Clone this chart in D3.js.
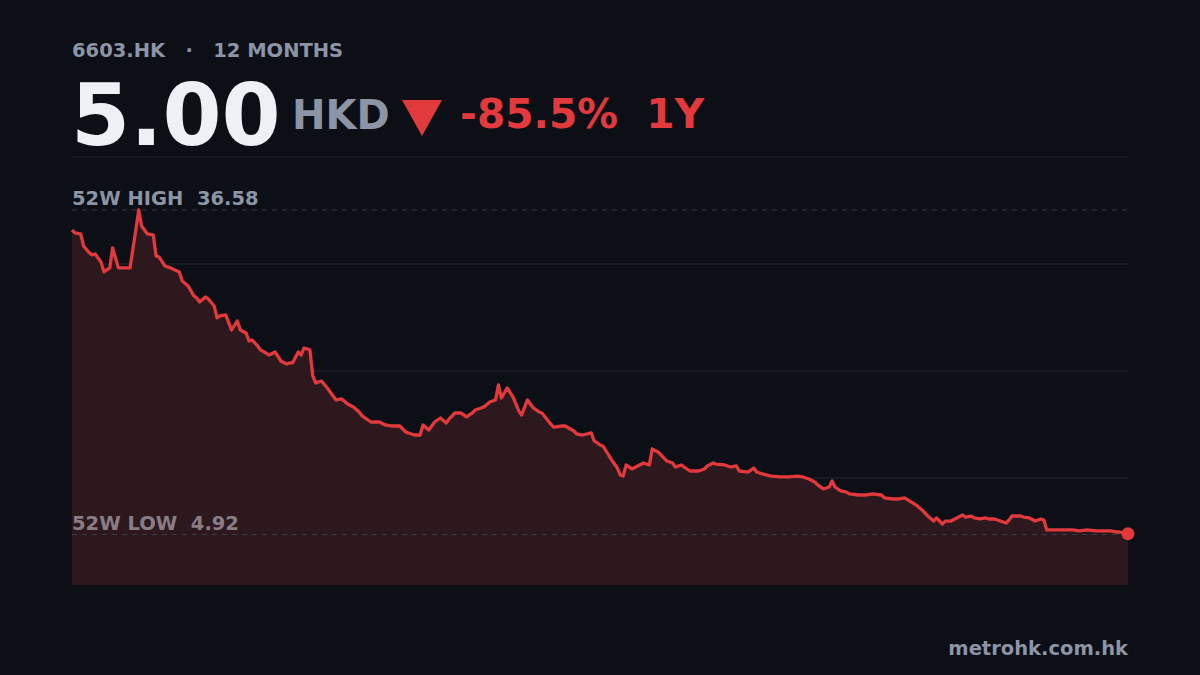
<!DOCTYPE html><html><head><meta charset="utf-8"><script src="https://cdn.jsdelivr.net/npm/d3@7"></script>
<style>body{margin:0;background:#0c0f16}svg{display:block}text{font-family:"DejaVu Sans",sans-serif;font-weight:bold}</style></head><body>
<svg id="c" width="1200" height="675"></svg>
<script>
const days=[0,1,3,4,6,7,8,10,11,13,14,16,18,20,22,23,24,26,28,29,30,32,34,37,38,40,42,43,44,46,47,49,50,51,53,55,57,58,60,61,62,64,65,68,70,72,74,75,76,78,79,80,82,83,84,86,88,91,93,95,97,99,100,103,106,108,110,113,115,118,120,121,123,125,127,129,130,132,134,136,138,139,141,142,144,146,147,148,150,152,154,155,157,159,161,162,165,166,169,170,173,174,176,179,180,182,183,186,188,189,190,191,193,195,197,199,200,202,204,205,207,208,210,211,213,216,218,219,221,222,225,227,229,230,233,235,236,238,241,244,247,250,252,254,256,257,259,261,262,263,265,267,268,271,274,276,279,280,283,285,287,291,293,295,297,298,300,301,303,305,307,308,310,311,313,315,316,318,320,322,323,324,327,328,330,332,334,335,336,339,342,345,347,350,353,356,358,360,361,364];
const prices=[34.63,34.34,34.24,33.07,32.39,32.20,32.29,31.51,30.54,30.93,32.88,30.93,30.93,30.93,34.63,36.58,35.02,34.24,34.15,32.10,32.00,31.12,30.93,30.54,29.66,29.17,28.20,28.00,27.61,28.10,27.90,27.22,26.05,26.24,26.34,24.88,25.76,24.88,24.59,23.80,23.90,23.32,22.93,22.44,22.73,21.85,21.56,21.66,21.66,22.73,22.44,23.12,22.93,20.39,19.71,19.90,19.22,18.05,18.15,17.66,17.37,16.88,16.49,15.90,15.90,15.61,15.51,15.51,14.93,14.63,14.63,15.61,15.12,15.90,16.29,15.80,16.20,16.78,16.78,16.39,16.78,17.07,17.27,17.37,17.85,18.05,19.51,18.24,19.22,18.34,16.98,16.59,18.05,17.27,16.88,16.78,15.71,15.41,15.51,15.51,15.02,14.73,14.63,14.83,14.05,13.66,13.56,12.20,11.41,10.73,10.63,11.71,11.32,11.61,11.90,11.71,13.27,12.98,12.39,12.10,11.90,11.51,11.71,11.51,11.12,11.12,11.32,11.61,11.90,11.80,11.71,11.51,11.61,11.12,11.02,11.41,11.02,10.83,10.63,10.54,10.54,10.63,10.54,10.34,10.05,9.76,9.37,9.56,10.15,9.56,9.17,9.07,8.88,8.78,8.78,8.88,8.78,8.49,8.39,8.39,8.49,7.80,7.32,6.73,6.24,6.54,5.95,6.24,6.24,6.54,6.83,6.63,6.73,6.54,6.44,6.54,6.44,6.44,6.24,6.05,6.34,6.73,6.73,6.63,6.54,6.24,6.44,6.34,5.37,5.37,5.37,5.37,5.27,5.37,5.27,5.27,5.27,5.17,5.17,5.00];
const high=36.58, low=4.92, last=5.00, change="-85.5%";
const data=days.map((d,i)=>({d,v:prices[i]}));
const svg=d3.select("#c");
svg.append("rect").attr("width",1200).attr("height",675).attr("fill","#0c0f16");
const L=72,R=1128,T=157,B=585;
const x=d3.scaleLinear().domain([0,364]).range([L,R]);
const y=d3.scaleLinear().domain([0,high*1.1413]).range([B,T]);
svg.append("line").attr("x1",L).attr("x2",R).attr("y1",T).attr("y2",T).attr("stroke","#1f232b");
[0.25,0.5,0.75].forEach(f=>{const yy=T+(B-T)*f;svg.append("line").attr("x1",L).attr("x2",R).attr("y1",yy).attr("y2",yy).attr("stroke","#23262e");});
svg.append("path").datum(data).attr("fill","#2d181e").attr("d",d3.area().x(d=>x(d.d)).y0(B).y1(d=>y(d.v)));
[[high,"52W HIGH  36.58","#8b95a5"],[low,"52W LOW  4.92","#8a7d86"]].forEach(([v,t,c])=>{
 svg.append("line").attr("x1",L).attr("x2",R).attr("y1",y(v)).attr("y2",y(v)).attr("stroke","#3a3d45").attr("stroke-dasharray","5,5");
 svg.append("text").attr("x",L).attr("y",y(v)-5).attr("fill",c).attr("font-size",19.5).attr("xml:space","preserve").text(t);
});
svg.append("path").datum(data).attr("fill","none").attr("stroke","#e2393d").attr("stroke-width",3.3).attr("stroke-linejoin","round").attr("d",d3.line().x(d=>x(d.d)).y(d=>y(d.v)));
svg.append("circle").attr("cx",x(364)).attr("cy",y(last)).attr("r",6.5).attr("fill","#e2393d");
svg.append("text").attr("x",L).attr("y",57).attr("fill","#8b95a5").attr("font-size",19.5).attr("xml:space","preserve").text("6603.HK   ·   12 MONTHS");
svg.append("text").attr("x",L-1).attr("y",145).attr("fill","#eef0f6").attr("font-size",85).text(last.toFixed(2));
svg.append("text").attr("x",292).attr("y",129).attr("fill","#8b95a5").attr("font-size",40).text("HKD");
svg.append("path").attr("d","M402,100 L442,100 L422,136 Z").attr("fill","#e2393d");
svg.append("text").attr("x",460).attr("y",128).attr("fill","#e2393d").attr("font-size",40.7).attr("xml:space","preserve").text(change+"  1Y");
svg.append("text").attr("x",R).attr("y",655).attr("text-anchor","end").attr("fill","#8b95a5").attr("font-size",19.5).text("metrohk.com.hk");
</script></body></html>
